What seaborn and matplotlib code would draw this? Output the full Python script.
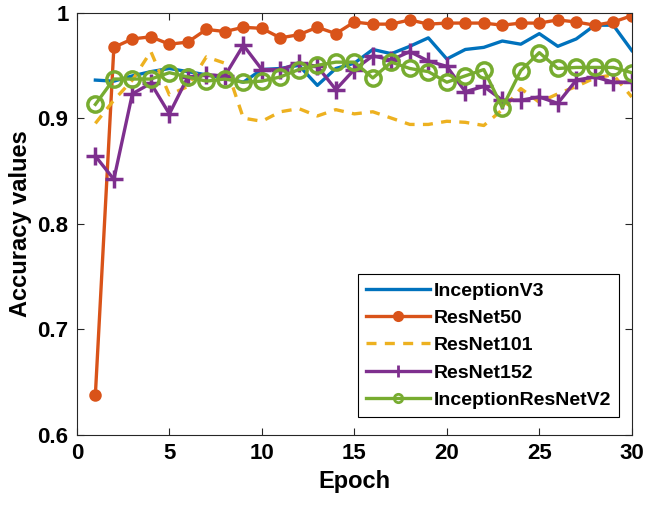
import numpy as np
import pandas as pd
import matplotlib
matplotlib.use('Agg')
import matplotlib.pyplot as plt
import seaborn as sns

# Accuracy per epoch
epochs = list(range(1, 31))
inception_v3 = [0.936, 0.935, 0.940, 0.944, 0.947, 0.944, 0.941, 0.938, 0.934, 0.946,
                0.947, 0.950, 0.931, 0.947, 0.952, 0.965, 0.961, 0.968, 0.976, 0.956,
                0.965, 0.967, 0.973, 0.970, 0.980, 0.968, 0.975, 0.988, 0.988, 0.964]
resnet50 = [0.638, 0.967, 0.975, 0.977, 0.970, 0.972, 0.984, 0.982, 0.986, 0.985,
            0.976, 0.979, 0.986, 0.980, 0.991, 0.989, 0.989, 0.993, 0.989, 0.990,
            0.990, 0.990, 0.988, 0.990, 0.990, 0.993, 0.991, 0.988, 0.991, 0.997]
resnet101 = [0.895, 0.917, 0.936, 0.963, 0.922, 0.930, 0.958, 0.952, 0.900, 0.897,
             0.906, 0.909, 0.902, 0.908, 0.904, 0.906, 0.900, 0.894, 0.894, 0.897,
             0.896, 0.893, 0.908, 0.928, 0.915, 0.923, 0.930, 0.938, 0.941, 0.920]
resnet152 = [0.864, 0.842, 0.923, 0.933, 0.904, 0.939, 0.941, 0.940, 0.969, 0.946,
             0.946, 0.952, 0.949, 0.927, 0.946, 0.959, 0.955, 0.963, 0.954, 0.949,
             0.925, 0.930, 0.917, 0.917, 0.920, 0.914, 0.936, 0.939, 0.934, 0.934]
inception_resnet_v2 = [0.913, 0.937, 0.937, 0.937, 0.943, 0.939, 0.935, 0.937, 0.934, 0.935,
                       0.939, 0.946, 0.950, 0.953, 0.953, 0.938, 0.953, 0.947, 0.944, 0.934,
                       0.940, 0.946, 0.910, 0.945, 0.962, 0.947, 0.948, 0.948, 0.948, 0.943]

names = ['InceptionV3', 'ResNet50', 'ResNet101', 'ResNet152', 'InceptionResNetV2']
series = [inception_v3, resnet50, resnet101, resnet152, inception_resnet_v2]

df = pd.DataFrame({'Epoch': epochs * len(names),
                   'Accuracy': sum(series, []),
                   'Model': [n for n in names for _ in epochs]})

colors = ['#0072BD', '#D95319', '#EDB120', '#7E2F8E', '#77AC30']
styles = {
    'InceptionV3': dict(marker=None, ls='-'),
    'ResNet50': dict(marker='o', ls='-', ms=7, mfc='#D95319', mec='#D95319', mew=2),
    'ResNet101': dict(marker=None, ls=(0, (3, 2.5))),
    'ResNet152': dict(marker='+', ls='-', ms=13, mew=2.5, mec='#7E2F8E'),
    'InceptionResNetV2': dict(marker='o', ls='-', ms=11, mfc='none', mew=2.5, mec='#77AC30'),
}

plt.rcParams['font.family'] = ['Liberation Sans', 'DejaVu Sans']
plt.rcParams['font.weight'] = 'bold'

fig = plt.figure(figsize=(6.46, 5.11), dpi=100)
ax = fig.add_axes([0.119, 0.149, 0.859, 0.8265])

for name, c in zip(names, colors):
    st = styles[name]
    sns.lineplot(data=df[df['Model'] == name], x='Epoch', y='Accuracy', ax=ax,
                 color=c, lw=2.4, label=name, **st)

ax.set_xlim(0, 30)
ax.set_ylim(0.6, 1.0)
ax.set_xticks([0, 5, 10, 15, 20, 25, 30])
ax.set_yticks([0.6, 0.7, 0.8, 0.9, 1.0])
ax.set_yticklabels(['0.6', '0.7', '0.8', '0.9', '1'])
ax.tick_params(direction='in', top=True, right=True, length=5, width=0.8,
               colors='#262626', labelcolor='black', labelsize=16, pad=6)
for lab in ax.get_xticklabels() + ax.get_yticklabels():
    lab.set_fontweight('bold')
for sp in ax.spines.values():
    sp.set_color('#262626')
    sp.set_linewidth(0.8)

ax.set_xlabel('Epoch', fontsize=17, fontweight='bold')
ax.set_ylabel('Accuracy values', fontsize=17, fontweight='bold')

leg = ax.legend(loc='lower right', bbox_to_anchor=(0.977, 0.043), borderaxespad=0,
                fontsize=14, handlelength=3.3, handletextpad=0.2, borderpad=0.4,
                labelspacing=0.5, fancybox=False, framealpha=1, edgecolor='black')
leg.get_frame().set_linewidth(0.8)
for t in leg.get_texts():
    t.set_fontweight('bold')
for h, ms in zip(leg.legend_handles, [0, 6, 0, 9, 6]):
    h.set_markersize(ms)
    if ms:
        h.set_markeredgewidth(2)

fig.savefig('out.png', dpi=100)
